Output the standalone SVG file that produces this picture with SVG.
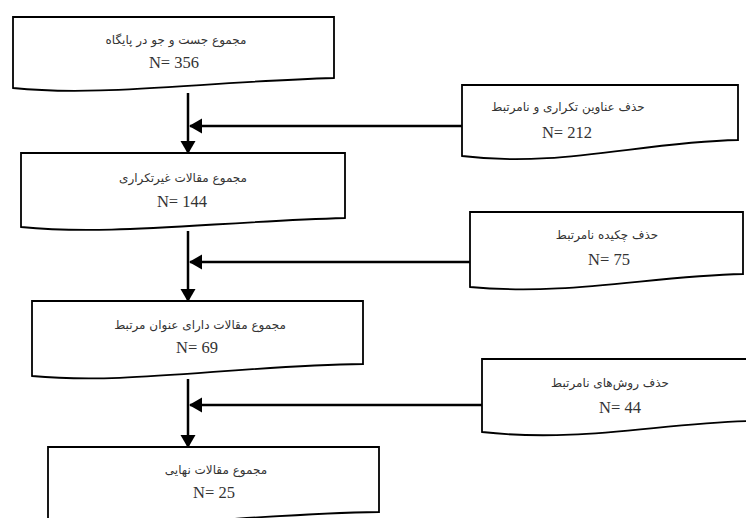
<svg xmlns="http://www.w3.org/2000/svg" width="746" height="518" viewBox="0 0 746 518">
<style>
.box{fill:#fff;stroke:#000;stroke-width:1.8;stroke-linejoin:miter}
.fa{font-family:"DejaVu Sans","Noto Sans",sans-serif;font-size:12px;fill:#333;text-anchor:middle}
.n{font-family:"Liberation Serif",serif;font-size:16.5px;fill:#333;text-anchor:middle}
.con{fill:none;stroke:#000;stroke-width:2.5}
</style>
<defs>
<marker id="ah" markerUnits="userSpaceOnUse" markerWidth="14" markerHeight="16" refX="12" refY="7.5" orient="auto">
<path d="M0,0 L13,7.5 L0,15 z" fill="#000"/>
</marker>
</defs>
<rect width="746" height="518" fill="#fff"/>
<g id="box1">
<path class="box" d="M13,17 H334 V78 C200,82 100,97 13,88 Z"/>
<text class="fa" x="176" y="44" direction="rtl">مجموع جست و جو در پایگاه</text>
<text class="n" x="174" y="68">N= 356</text>
</g>
<g id="remove1">
<path class="box" d="M462,85 H738 V140 C640,142 560,168 462,156 Z"/>
<text class="fa" x="568" y="111" direction="rtl">حذف عناوین تکراری و نامرتبط</text>
<text class="n" x="567" y="138">N= 212</text>
</g>
<g id="box2">
<path class="box" d="M21,153 H345 V218 C210,222 110,236 21,227 Z"/>
<text class="fa" x="183" y="182" direction="rtl">مجموع مقالات غیرتکراری</text>
<text class="n" x="182" y="207">N= 144</text>
</g>
<g id="remove2">
<path class="box" d="M470,212 H743 V274 C650,276 570,296 470,287 Z"/>
<text class="fa" x="607" y="239" direction="rtl">حذف چکیده نامرتبط</text>
<text class="n" x="609" y="265">N= 75</text>
</g>
<g id="box3">
<path class="box" d="M32,301 H363 V364 C230,366 130,385 32,376 Z"/>
<text class="fa" x="200" y="329" direction="rtl">مجموع مقالات دارای عنوان مرتبط</text>
<text class="n" x="197" y="353">N= 69</text>
</g>
<g id="remove3">
<path class="box" d="M482,359 H750 V421 C660,423 580,443 482,432 Z"/>
<text class="fa" x="610" y="387" direction="rtl">حذف روش‌های نامرتبط</text>
<text class="n" x="620" y="413">N= 44</text>
</g>
<g id="box4">
<path class="box" d="M48,447 H379 V512 C250,514 150,530 48,522 Z"/>
<text class="fa" x="216" y="474" direction="rtl">مجموع مقالات نهایی</text>
<text class="n" x="214" y="498">N= 25</text>
</g>
<g id="connectors">
<line class="con" x1="188" y1="93" x2="188" y2="153" marker-end="url(#ah)"/>
<line class="con" x1="462" y1="126" x2="190" y2="126" marker-end="url(#ah)"/>
<line class="con" x1="188" y1="231" x2="188" y2="301" marker-end="url(#ah)"/>
<line class="con" x1="470" y1="262" x2="190" y2="262" marker-end="url(#ah)"/>
<line class="con" x1="188" y1="379" x2="188" y2="447" marker-end="url(#ah)"/>
<line class="con" x1="482" y1="405" x2="190" y2="405" marker-end="url(#ah)"/>
</g>
</svg>
